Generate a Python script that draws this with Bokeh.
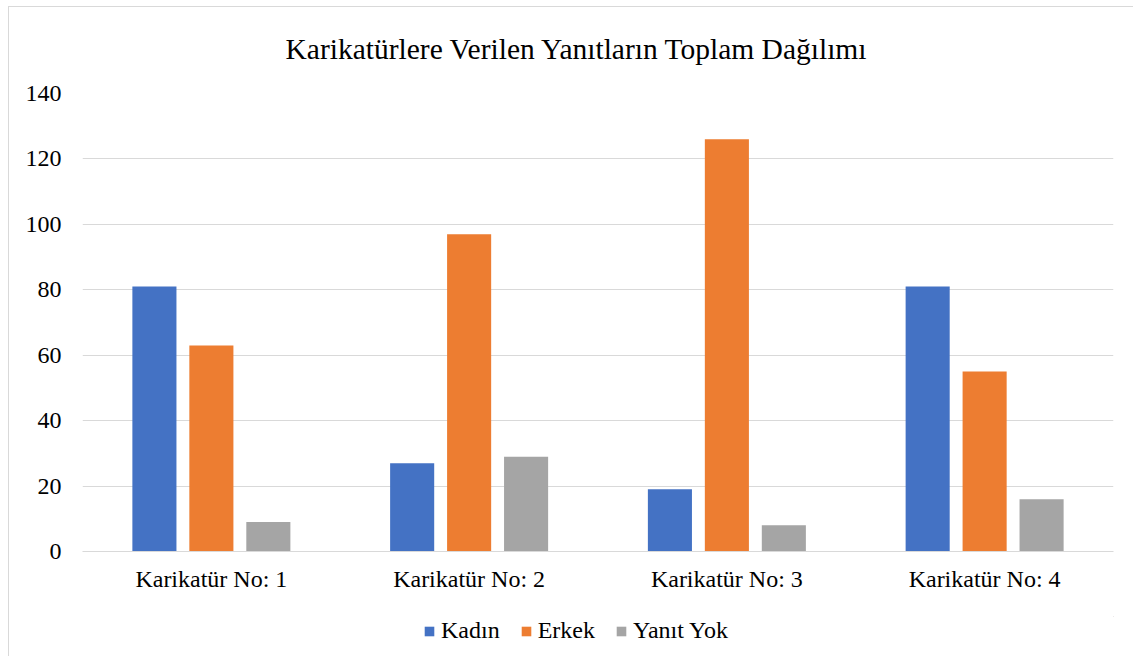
from bokeh.plotting import figure
from bokeh.models import ColumnDataSource, Range1d, FixedTicker, Legend, LegendItem
from bokeh.layouts import column
from bokeh.transform import dodge
from bokeh.embed import file_html
from bokeh.resources import INLINE

categories = ["Karikatür No: 1", "Karikatür No: 2", "Karikatür No: 3", "Karikatür No: 4"]
kadin = [81, 27, 19, 81]
erkek = [63, 97, 126, 55]
yanit_yok = [9, 29, 8, 16]
series_names = ["Kadın", "Erkek", "Yanıt Yok"]
colors = ["#4472C4", "#ED7D31", "#A5A5A5"]
title_text = "Karikatürlere Verilen Yanıtların Toplam Dağılımı"
y_ticks = [0, 20, 40, 60, 80, 100, 120, 140]

FONT = "Liberation Serif"

source = ColumnDataSource(dict(cat=categories, kadin=kadin, erkek=erkek, yanit=yanit_yok))

p = figure(x_range=categories, width=1133, height=616, output_backend="svg",
           toolbar_location=None, min_border_left=82, min_border_right=20,
           min_border_top=93, min_border_bottom=65)
p.x_range.range_padding = 0
p.y_range = Range1d(0, 140)
p.border_fill_color = None

for col, off, color in zip(["kadin", "erkek", "yanit"], [-0.221, 0.0, 0.221], colors):
    p.vbar(x=dodge("cat", off, range=p.x_range), top=col, width=0.171,
           source=source, color=color, line_color=None)

p.title.text = title_text
p.title.align = "left"
p.title.text_font = FONT
p.title.text_font_size = "29.5px"
p.title.text_font_style = "normal"
p.title.text_color = "#000000"
p.title.offset = 203
p.title.standoff = 58

p.yaxis.ticker = FixedTicker(ticks=y_ticks)
p.yaxis.axis_line_color = None
p.yaxis.major_tick_line_color = None
p.yaxis.minor_tick_line_color = None
p.yaxis.major_label_text_font = FONT
p.yaxis.major_label_text_font_size = "24px"
p.yaxis.major_label_text_color = "#000000"
p.yaxis.major_label_standoff = 15

p.xaxis.axis_line_color = "#D9D9D9"
p.xaxis.axis_line_width = 1
p.xaxis.major_tick_line_color = None
p.xaxis.minor_tick_line_color = None
p.xaxis.major_label_text_font = FONT
p.xaxis.major_label_text_font_size = "24px"
p.xaxis.major_label_text_color = "#000000"
p.xaxis.major_label_standoff = 8

p.xgrid.grid_line_color = None
p.ygrid.grid_line_color = "#D9D9D9"
p.ygrid.grid_line_width = 1
p.outline_line_color = None

# legend strip below the chart
lg = figure(width=1133, height=40, output_backend="svg", toolbar_location=None,
            x_range=Range1d(0, 1), y_range=Range1d(0, 1),
            x_axis_location=None, y_axis_location=None,
            min_border_left=0, min_border_right=0, min_border_top=0, min_border_bottom=0)
lg.grid.grid_line_color = None
lg.outline_line_color = None
lg.border_fill_color = None
lg.background_fill_color = None
# off-range placeholder glyphs that only feed the legend swatches
dummy = [lg.vbar(x=[5], top=[5], bottom=[4], width=0.1, color=c, line_color=None) for c in colors]
legend = Legend(items=[LegendItem(label=n, renderers=[r]) for n, r in zip(series_names, dummy)],
                orientation="horizontal", location=(341, 12),
                label_text_font=FONT, label_text_font_size="24px", label_text_color="#000000",
                glyph_width=12, glyph_height=12, spacing=20, label_standoff=6,
                border_line_color=None, background_fill_alpha=0, margin=0, padding=2)
lg.add_layout(legend, "center")

layout = column(p, lg, spacing=0)
layout.styles = {"box-shadow": "inset 8px 6px 0 0 #FFFFFF, inset 9px 7px 0 0 #D9D9D9",
                 "background-color": "#FFFFFF"}

open("out.html", "w").write(file_html(layout, INLINE))
